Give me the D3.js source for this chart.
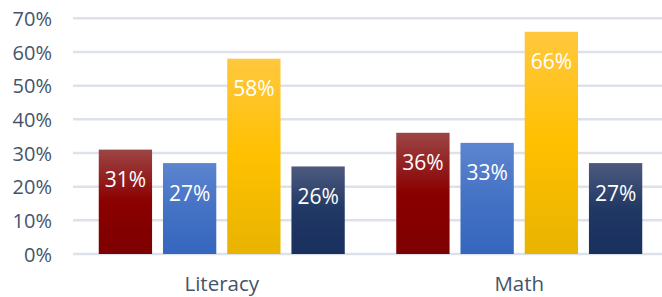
<!DOCTYPE html>
<html><head><meta charset="utf-8">
<script src="https://cdn.jsdelivr.net/npm/d3@7"></script>
<style>body{margin:0;background:#fff;}svg{display:block;font-family:"Open Sans",sans-serif;}</style>
</head><body>
<svg id="c" width="662" height="297"></svg>
<script>
const categories = ["Literacy", "Math"];
const seriesNames = ["s1", "s2", "s3", "s4"];
const s1 = [0.31, 0.36];
const s2 = [0.27, 0.33];
const s3 = [0.58, 0.66];
const s4 = [0.26, 0.27];
const yTicks = [0, 0.1, 0.2, 0.3, 0.4, 0.5, 0.6, 0.7];
const seriesValues = [s1, s2, s3, s4];
const gradients = [
  ["#9c4545", "#8b0000", "#7e0000"],
  ["#5d85cf", "#4472c4", "#3566be"],
  ["#ffc83e", "#ffc000", "#e8b400"],
  ["#4d5a7e", "#203864", "#192f5e"]
];

const svg = d3.select("#c");
const x0 = d3.scaleBand().domain(categories).range([73, 668]).paddingInner(0).paddingOuter(0);
const x1 = d3.scaleBand().domain(seriesNames).range([25.75, 297.5 - 25.75]).paddingInner(0.17).paddingOuter(0);
const y = d3.scaleLinear().domain([0, 0.7]).range([254, 18.3]);

const defs = svg.append("defs");
gradients.forEach((g, i) => {
  const lg = defs.append("linearGradient").attr("id", "g" + i).attr("x1", 0).attr("y1", 0).attr("x2", 0).attr("y2", 1);
  lg.append("stop").attr("offset", "0%").attr("stop-color", g[0]);
  lg.append("stop").attr("offset", "50%").attr("stop-color", g[1]);
  lg.append("stop").attr("offset", "100%").attr("stop-color", g[2]);
});

// gridlines
svg.append("g").selectAll("line").data(yTicks).join("line")
  .attr("x1", 73).attr("x2", 662)
  .attr("y1", d => y(d)).attr("y2", d => y(d))
  .attr("stroke", "#dde1e9").attr("stroke-width", 2.5);

// y axis labels
const yAxis = d3.axisLeft(y).tickValues(yTicks).tickFormat(d3.format(".0%")).tickSize(0).tickPadding(0);
const ya = svg.append("g").attr("transform", "translate(52,0)").call(yAxis);
ya.select(".domain").remove();
ya.selectAll("text").attr("font-family", "Open Sans, sans-serif").attr("font-size", 20)
  .attr("fill", "#44546a").attr("dy", "0.36em");

// bars
const data = [];
categories.forEach((c, ci) => seriesNames.forEach((s, si) => data.push({c, s, si, v: seriesValues[si][ci]})));
const gb = svg.append("g");
gb.selectAll("rect").data(data).join("rect")
  .attr("x", d => x0(d.c) + x1(d.s))
  .attr("width", x1.bandwidth())
  .attr("y", d => y(d.v))
  .attr("height", d => y(0) - y(d.v))
  .attr("fill", d => `url(#g${d.si})`);

gb.selectAll("text").data(data).join("text")
  .attr("x", d => x0(d.c) + x1(d.s) + x1.bandwidth() / 2)
  .attr("y", d => y(d.v) + 30)
  .attr("dy", "0.36em")
  .attr("text-anchor", "middle")
  .attr("font-size", 21).attr("fill", "#ffffff")
  .text(d => d3.format(".0%")(d.v));

// x axis labels
const xAxis = d3.axisBottom(x0).tickSize(0).tickPadding(0);
const xa = svg.append("g").attr("transform", "translate(0,290.5)").call(xAxis);
xa.select(".domain").remove();
xa.selectAll("text").attr("font-family", "Open Sans, sans-serif").attr("font-size", 20.5)
  .attr("fill", "#44546a").attr("y", 0).attr("dy", 0);
</script>
</body></html>
